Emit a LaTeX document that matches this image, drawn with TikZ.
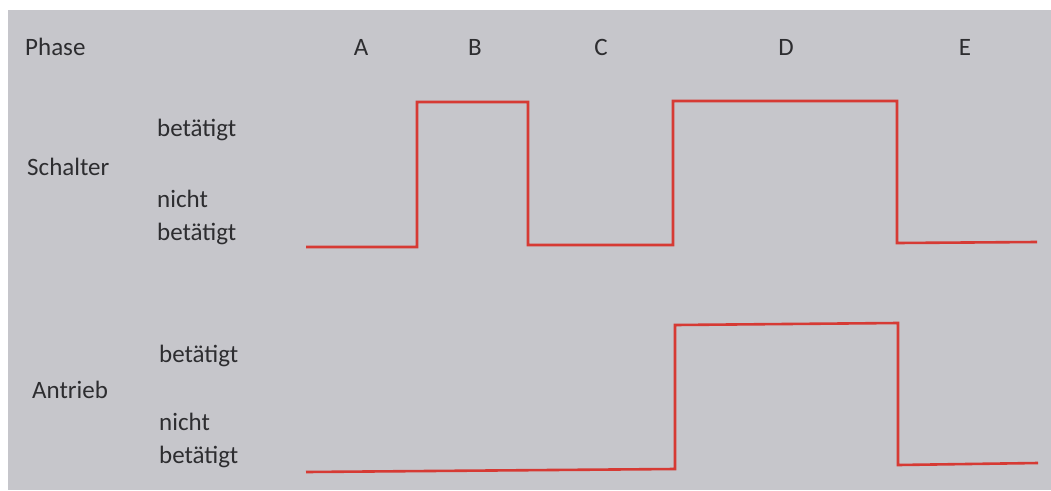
\documentclass[tikz,border=0pt]{standalone}
\usepackage{fontspec}
\setmainfont{Carlito}
\definecolor{bg}{RGB}{198,198,203}
\definecolor{sig}{RGB}{214,58,52}
\definecolor{txt}{RGB}{45,45,48}
\begin{document}
\begin{tikzpicture}[x=1pt,y=-1pt,
  lbl/.style={anchor=base west,inner sep=0pt,text=txt,font=\fontsize{25}{29}\selectfont},
  phs/.style={anchor=base,inner sep=0pt,text=txt,font=\fontsize{25}{29}\selectfont},
  wave/.style={draw=sig,line width=2.6pt,line join=miter}]
\useasboundingbox (0,0) rectangle (1051,490);
\fill[white] (0,0) rectangle (1051,490);
\fill[bg] (8,10) rectangle (1051,490);
% header
\node[lbl] (phase) at (25,55) {Phase};
\node[phs] (pA) at (361,55) {A};
\node[phs] (pB) at (475,55) {B};
\node[phs] (pC) at (601,55) {C};
\node[phs] (pD) at (786,55) {D};
\node[phs] (pE) at (965,55) {E};
% Schalter labels
\node[lbl] (schalter) at (27,175) {Schalter};
\node[lbl] (s1) at (157,136) {betätigt};
\node[lbl] (s2) at (157,207) {nicht};
\node[lbl] (s3) at (157,240) {betätigt};
% Antrieb labels
\node[lbl] (antrieb) at (32,398) {Antrieb};
\node[lbl] (a1) at (159,362) {betätigt};
\node[lbl] (a2) at (159,430) {nicht};
\node[lbl] (a3) at (159,463) {betätigt};
% Schalter waveform
\coordinate (s0) at (306,247);
\coordinate (sA) at (417,247);
\coordinate (sB) at (417,102);
\coordinate (sC) at (528,102);
\coordinate (sD) at (528,245);
\coordinate (sE) at (673,245);
\coordinate (sF) at (673,101);
\coordinate (sG) at (897,101);
\coordinate (sH) at (897,243);
\coordinate (sI) at (1037,242);
\draw[wave] (s0) -- (sA) -- (sB) -- (sC) -- (sD) -- (sE) -- (sF) -- (sG) -- (sH) -- (sI);
% Antrieb waveform
\coordinate (t0) at (306,472);
\coordinate (tA) at (675,469);
\coordinate (tB) at (675,325);
\coordinate (tC) at (898,323);
\coordinate (tD) at (898,465);
\coordinate (tE) at (1038,463);
\draw[wave] (t0) -- (tA) -- (tB) -- (tC) -- (tD) -- (tE);
\end{tikzpicture}
\end{document}
